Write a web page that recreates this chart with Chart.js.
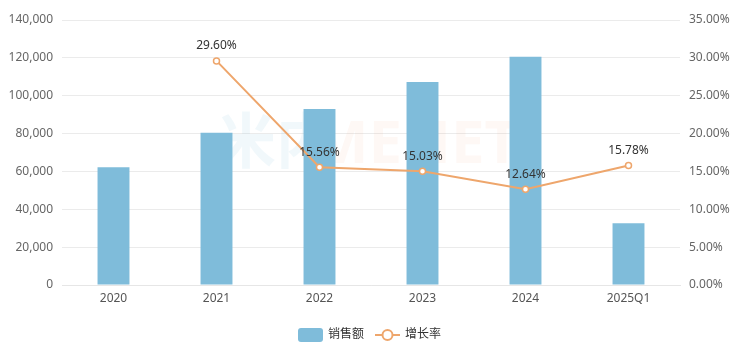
<!DOCTYPE html>
<html>
<head>
<meta charset="utf-8">
<script src="https://cdn.jsdelivr.net/npm/chart.js@4"></script>
<style>
    html, body { margin: 0; padding: 0; background: #fff; }
    #wrap { width: 739px; height: 355px; }
</style>
</head>
<body>
<div id="wrap"><canvas id="sales-chart" width="739" height="355"></canvas></div>
<script>
const categories = ['2020', '2021', '2022', '2023', '2024', '2025Q1']
const salesValues = [62200, 80500, 93000, 107200, 120600, 32600]
const growthRates = [null, 29.60, 15.56, 15.03, 12.64, 15.78]
const salesLabel = '销售额'
const growthLabel = '增长率'

const FONT = '"Noto Sans", "Noto Sans CJK SC", sans-serif'
const BAR_COLOR = '#7fbcda'
const LINE_COLOR = '#eea66c'

const formatNumber = v => Number(v).toLocaleString('en-US')

// watermark behind the bars
const watermark = {
    id: 'watermark',
    beforeDatasetsDraw(chart) {
        const ctx = chart.ctx
        ctx.save()
        ctx.font = 'bold 60px ' + FONT
        ctx.textBaseline = 'middle'
        ctx.textAlign = 'left'
        ctx.fillStyle = 'rgba(127, 188, 218, 0.11)'
        ctx.fillText('米内', 216, 146)
        ctx.fillStyle = 'rgba(245, 160, 110, 0.07)'
        ctx.fillText('MENET', 312, 146)
        ctx.restore()
    }
}

// percentage labels above the line points
const pointLabels = {
    id: 'pointLabels',
    afterDatasetsDraw(chart) {
        const ctx = chart.ctx
        const meta = chart.getDatasetMeta(1)
        ctx.save()
        ctx.font = '12px ' + FONT
        ctx.fillStyle = '#333'
        ctx.textAlign = 'center'
        ctx.textBaseline = 'middle'
        meta.data.forEach((pt, i) => {
            const v = growthRates[i]
            if (v === null) return
            ctx.fillText(v.toFixed(2) + '%', pt.x, pt.y - 15)
        })
        ctx.restore()
    }
}

// legend at the bottom: box for bars, line+circle for the line
const bottomLegend = {
    id: 'bottomLegend',
    afterDraw(chart) {
        const ctx = chart.ctx
        const y = 335
        ctx.save()
        ctx.font = '12px ' + FONT
        ctx.textBaseline = 'middle'
        ctx.textAlign = 'left'

        ctx.fillStyle = BAR_COLOR
        ctx.beginPath()
        ctx.roundRect(298, y - 7, 25, 14, 3)
        ctx.fill()
        ctx.fillStyle = '#333'
        ctx.fillText(salesLabel, 328, y)

        ctx.strokeStyle = LINE_COLOR
        ctx.lineWidth = 2
        ctx.beginPath()
        ctx.moveTo(375, y)
        ctx.lineTo(400, y)
        ctx.stroke()
        ctx.beginPath()
        ctx.arc(387.5, y, 5, 0, Math.PI * 2)
        ctx.fillStyle = '#fff'
        ctx.fill()
        ctx.stroke()
        ctx.fillStyle = '#333'
        ctx.fillText(growthLabel, 405, y)
        ctx.restore()
    }
}

function createChart() {
    const canvas = document.querySelector('#sales-chart')
    new Chart(canvas, {
        data: {
            labels: categories,
            datasets: [
                {
                    type: 'bar',
                    label: salesLabel,
                    data: salesValues,
                    yAxisID: 'y',
                    backgroundColor: BAR_COLOR,
                    borderWidth: 0,
                    categoryPercentage: 1,
                    barPercentage: 0.31,
                    order: 2
                },
                {
                    type: 'line',
                    label: growthLabel,
                    data: growthRates,
                    yAxisID: 'y1',
                    borderColor: LINE_COLOR,
                    borderWidth: 2,
                    pointRadius: 3,
                    pointBorderWidth: 1.5,
                    pointBackgroundColor: '#fff',
                    pointBorderColor: LINE_COLOR,
                    spanGaps: true,
                    tension: 0,
                    order: 1
                }
            ]
        },
        options: {
            responsive: false,
            animation: false,
            layout: { padding: { top: 20, bottom: 45, left: 0, right: 0 } },
            plugins: {
                legend: { display: false },
                tooltip: { enabled: false }
            },
            scales: {
                x: {
                    offset: true,
                    grid: { display: false, drawTicks: false },
                    border: { display: true, color: '#e6e6e6' },
                    ticks: { color: '#555', font: { family: FONT, size: 12 }, padding: 6 },
                    afterFit: s => { s.height = 25 }
                },
                y: {
                    position: 'left',
                    min: 0,
                    max: 140000,
                    grid: { color: '#ebebeb', drawTicks: false },
                    border: { display: false },
                    ticks: {
                        stepSize: 20000,
                        color: '#666',
                        padding: 9,
                        font: { family: FONT, size: 12 },
                        callback: v => formatNumber(v)
                    },
                    afterFit: s => { s.width = 62 }
                },
                y1: {
                    position: 'right',
                    min: 0,
                    max: 35,
                    grid: { display: false, drawTicks: false },
                    border: { display: false },
                    ticks: {
                        stepSize: 5,
                        color: '#666',
                        padding: 9,
                        font: { family: FONT, size: 12 },
                        callback: v => v.toFixed(2) + '%'
                    },
                    afterFit: s => { s.width = 59 }
                }
            }
        },
        plugins: [watermark, pointLabels, bottomLegend]
    })
}

createChart()
</script>
</body>
</html>
